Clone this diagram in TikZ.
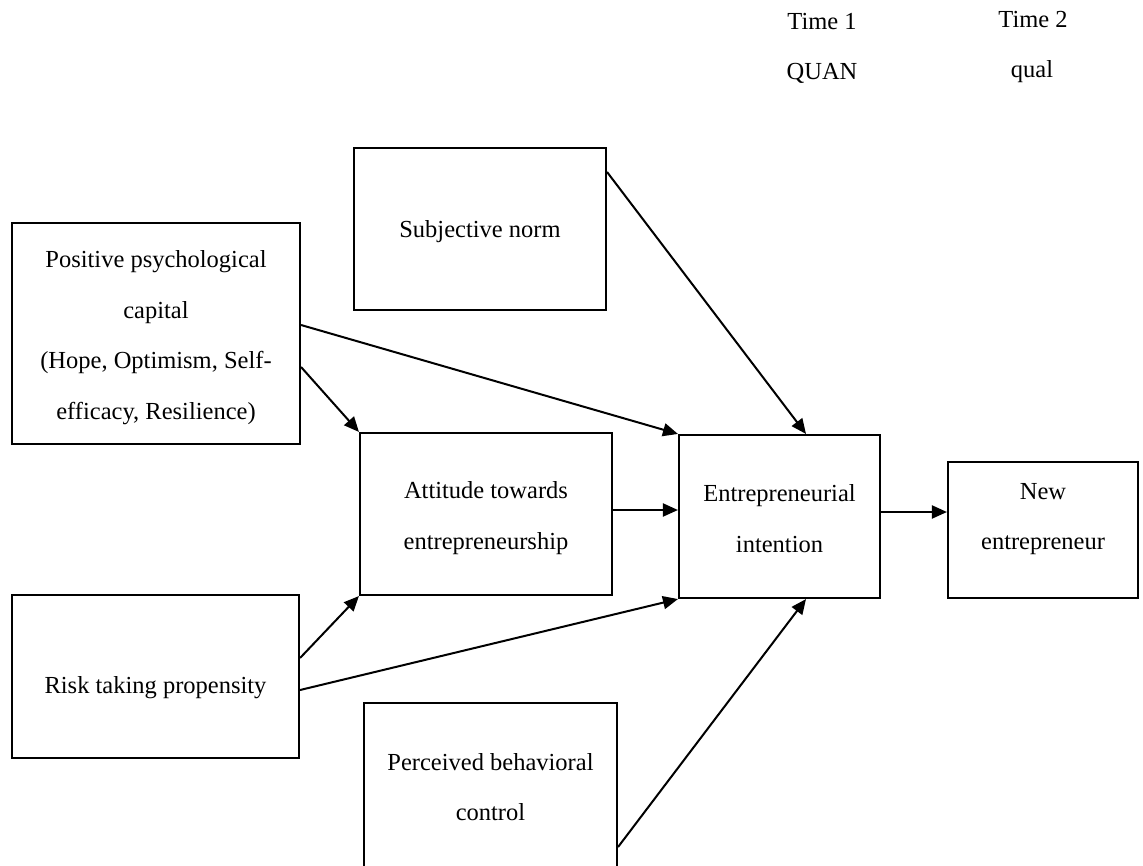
\documentclass[tikz,border=0pt]{standalone}
\usepackage{fontspec}
\setmainfont{Liberation Serif}
\usetikzlibrary{arrows.meta}
\begin{document}
\begin{tikzpicture}[x=1pt,y=-1pt,
  box/.style={draw, rectangle, line width=2.1pt, inner sep=0pt},
  lbl/.style={align=center, inner sep=0pt, font=\fontsize{24.5}{50.5}\selectfont},
  link/.style={line width=2pt, -{Triangle[length=15pt,width=13pt]}}]
\useasboundingbox (0,0) rectangle (1143,865);
\begin{scope}
\clip (0,0) rectangle (1143,865);

% header
\node[lbl] (t1) at (822,22) {Time 1};
\node[lbl] (t2) at (1033,20) {Time 2};
\node[lbl] (quan) at (822,73) {QUAN};
\node[lbl] (qual) at (1032,72) {qual};

% boxes
\node[box, minimum width=252pt, minimum height=162pt] (sn) at (480,229) {};
\node[box, minimum width=288pt, minimum height=221pt] (ppc) at (156,333.5) {};
\node[box, minimum width=252pt, minimum height=162pt] (att) at (486,514) {};
\node[box, minimum width=201pt, minimum height=163pt] (ei) at (779.5,516.5) {};
\node[box, minimum width=190pt, minimum height=136pt] (ne) at (1043,530) {};
\node[box, minimum width=287pt, minimum height=163pt] (rtp) at (155.5,676.5) {};
\node[box, minimum width=253pt, minimum height=167pt] (pbc) at (490.5,786.5) {};

% box texts
\node[lbl] (snt) at (480,232) {Subjective norm};
\node[lbl] (ppct) at (156,337.5) {Positive psychological\\capital\\(Hope, Optimism, Self-\\efficacy, Resilience)};
\node[lbl] (attt) at (486,518) {Attitude towards\\entrepreneurship};
\node[lbl] (eit) at (779.5,518.5) {Entrepreneurial\\intention};
\node[lbl] (net) at (1043,519) {New\\entrepreneur};
\node[lbl] (rtpt) at (155.5,688) {Risk taking propensity};
\node[lbl] (pbct) at (490.5,787) {Perceived behavioral\\control};

% paths
\coordinate (a1) at ([yshift=4pt]att.east);
\coordinate (e1) at ([yshift=4.5pt]ei.east);
\draw[link] ([yshift=57pt]sn.east) -- ([xshift=26.5pt]ei.north);
\draw[link] ([yshift=8.5pt]ppc.east) -- (ei.north west);
\draw[link] ([yshift=-33.5pt]ppc.east) -- (att.north west);
\draw[link] (a1) -- (a1 -| ei.west);
\draw[link] (e1) -- (e1 -| ne.west);
\draw[link] ([yshift=18.5pt]rtp.east) -- (att.south west);
\draw[link] ([yshift=-13.5pt]rtp.east) -- (ei.south west);
\draw[link] ([yshift=-60.5pt]pbc.east) -- ([xshift=26.5pt]ei.south);
\end{scope}
\end{tikzpicture}
\end{document}
